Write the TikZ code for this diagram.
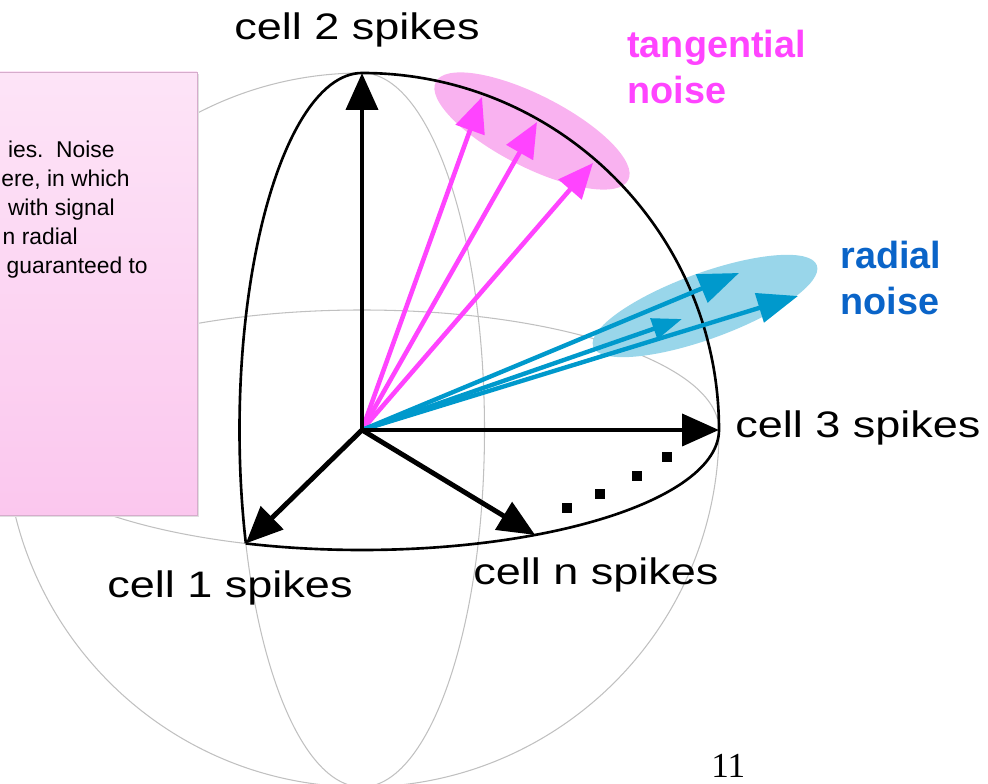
\documentclass[tikz,border=0pt]{standalone}
\usepackage{fontspec}
\setmainfont{Liberation Sans}
\newfontfamily\axisfont[FakeStretch=1.22]{Liberation Sans}
\newfontfamily\pagefont{Liberation Serif}
\usetikzlibrary{arrows.meta, calc}
\definecolor{NoiseMagenta}{RGB}{255, 68, 255}
\definecolor{NoisePink}{RGB}{249, 178, 240}
\definecolor{NoiseBlue}{RGB}{0, 153, 204}
\definecolor{NoiseSky}{RGB}{153, 214, 234}
\definecolor{NoiseText}{RGB}{10, 100, 200}
\definecolor{NoteTop}{RGB}{253, 228, 247}
\definecolor{NoteBottom}{RGB}{251, 199, 238}
\definecolor{NoteEdge}{RGB}{214, 172, 204}
\definecolor{GridGray}{RGB}{192, 192, 192}
\tikzset{
  gridline/.style={GridGray, line width=0.6pt},
  front/.style={black, line width=1.5pt},
  axis/.style={-{Triangle[length=21pt, width=18pt]}, line width=2.8pt},
  tang/.style={-{Triangle[length=20pt, width=17pt]}, line width=2.6pt, NoiseMagenta},
  rad/.style={-{Triangle[length=23pt, width=17pt]}, line width=2.5pt, NoiseBlue},
  lab/.style={font=\axisfont\fontsize{21}{25}\selectfont, inner sep=0pt},
  noise/.style={font=\bfseries\fontsize{21.5}{26}\selectfont, align=left, inner sep=0pt, anchor=north west},
  note/.style={font=\fontsize{13}{16.4}\selectfont, inner sep=0pt, anchor=base east},
}

\begin{document}
\begin{tikzpicture}[x=0.02cm, y=0.02cm]
    \useasboundingbox (0,0) rectangle (988,784);
    \coordinate (O) at (362,354);
    \coordinate (c2) at ($(O)+(90:357)$);
    \coordinate (c3) at ($(O)+(0:357)$);
    \coordinate (c1) at ($(O)+(251:357 and 120)$);
    \coordinate (cn) at ($(O)+(299:357 and 120)$);
    % sphere, equator and meridian
    \draw[gridline] (O) circle[radius=357];
    \draw[gridline] (O) ellipse[x radius=357, y radius=120];
    \draw[gridline] (O) ellipse[x radius=122.5, y radius=357];
    % note box
    \fill[black!12] (-5,267) rectangle (199,710);
    \draw[NoteEdge, top color=NoteTop, bottom color=NoteBottom] (-5,269) rectangle (197,712);
    \node[note] (n1) at (115,626) {ies.\ \ Noise};
    \node[note] (n2) at (130,597) {ere, in which};
    \node[note] (n3) at (115,568) {with signal};
    \node[note] (n4) at (78,539) {n radial};
    \node[note] (n5) at (148,510) {guaranteed to};
    % noise clouds
    \fill[NoisePink, rotate around={-27:(532,653)}] (532,653) ellipse[x radius=108, y radius=36];
    \fill[NoiseSky, rotate around={20:(705,478)}] (705,478) ellipse[x radius=119, y radius=33];
    % front arcs
    \draw[front] (c3) arc[start angle=0, end angle=90, radius=357];
    \draw[front] (c1) arc[start angle=251, end angle=360, x radius=357, y radius=120];
    \draw[front] (c2) arc[start angle=90, end angle=198.5, x radius=122.5, y radius=357];
    % noise vectors
    \coordinate (t1) at (482,687);
    \coordinate (t2) at (537,662);
    \coordinate (t3) at (593,621);
    \coordinate (r1) at (739,511);
    \coordinate (r2) at (798,488);
    \coordinate (r3) at (682,465);
    \foreach \t in {t1,t2,t3} \draw[tang] (O) -- (\t);
    \draw[rad] (O) -- (r1); \draw[rad] (O) -- (r2);
    \draw[rad, -{Triangle[length=17pt, width=12pt]}] (O) -- (r3);
    % axes
    \foreach \c in {c1,c2,c3,cn} \draw[axis] (O) -- (\c);
    \foreach \x/\y in {567/276, 600/290, 637/308, 667/327}
      \fill (\x-5,\y-5) rectangle ++(10,10);
    % labels
    \node[lab, anchor=base] (l2) at (357,744) {cell 2 spikes};
    \node[lab, anchor=base west] (l3) at (735,346) {cell 3 spikes};
    \node[lab, anchor=base] (l1) at (230,186) {cell 1 spikes};
    \node[lab, anchor=base west] (ln) at (473,199) {cell n spikes};
    \node[noise, NoiseMagenta] (tn) at (627,754) {tangential\\noise};
    \node[noise, NoiseText] (rn) at (840,543) {radial\\noise};
    \node[font=\pagefont\fontsize{20}{24}\selectfont, anchor=base west, inner sep=0pt] (pg) at (711,6) {11};
  \end{tikzpicture}
\end{document}
